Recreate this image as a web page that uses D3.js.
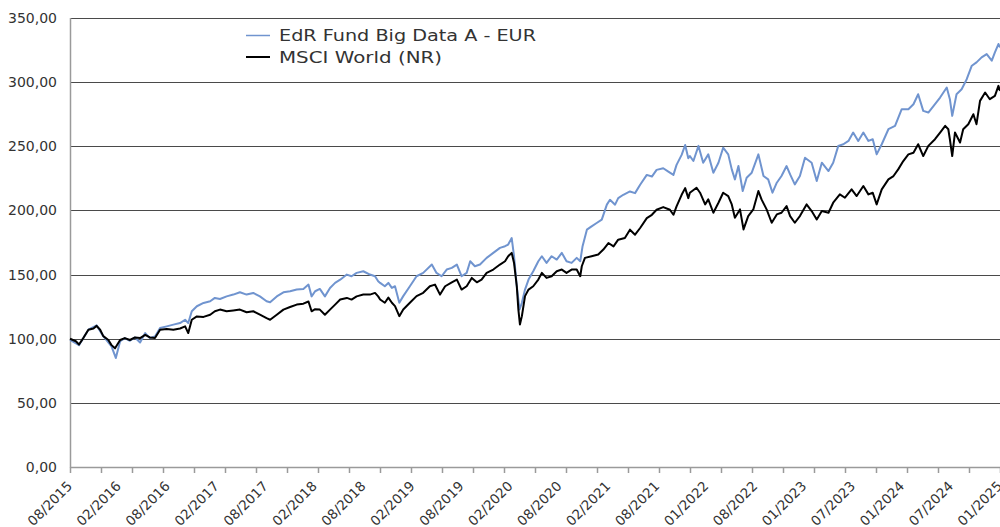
<!DOCTYPE html>
<html><head><meta charset="utf-8">
<script src="https://cdn.jsdelivr.net/npm/d3@7"></script>
<style>body{margin:0;background:#fff;}svg{display:block;}</style>
</head><body><svg id="c" width="1000" height="527"></svg>
<script>
const seriesNames = ["EdR Fund Big Data A - EUR", "MSCI World (NR)"];
const xLabels = ["08/2015","02/2016","08/2016","02/2017","08/2017","02/2018","08/2018","02/2019","08/2019","02/2020","08/2020","02/2021","08/2021","01/2022","08/2022","01/2023","07/2023","01/2024","07/2024","01/2025"];
const yTicks = [0,50,100,150,200,250,300,350];
const totalDays = 2375;
const labelEvery = 125;
const tickCount = 30;

const edrDays = [0,23,47,68,85,106,117,128,140,153,166,179,192,204,217,230,247,264,281,294,302,311,324,341,358,370,383,400,417,434,451,468,485,502,511,528,545,562,579,596,609,617,626,638,651,664,677,690,707,719,732,749,766,779,787,
792,804,813,822,830,841,851,868,885,902,924,936,949,962,975,988,1000,1013,1022,1034,1047,1064,1081,1098,1111,1119,1128,1134,1141,1148,1154,1162,1171,1183,1196,1205,1217,1230,1243,1256,1268,1281,1294,1303,1309,1320,1332,1345,1358,1371,1379,1392,1400,1413,1430,1443,1456,1473,1486,1498,1515,1528,1541,1549,1562,1571,1579,
1583,1592,1605,1617,1630,1643,1656,1668,1681,1690,1698,1707,1718,1728,1741,1758,1771,1783,1794,1805,1817,1830,1839,1851,1864,1877,1894,1907,1920,1937,1949,1962,1975,1988,2000,2013,2026,2039,2050,2060,2073,2090,2107,2124,2141,2154,2166,2179,2192,2209,2222,2239,2247,2253,2264,2277,2290,2303,2315,2328,2341,2354,2362,2371,2375];
const edrValues = [99,95,107,110.4,102,94,85,98,100.5,98.4,101,97.1,104.4,100.5,101.8,108.3,109.6,111,112.2,114.8,112.2,121.4,125.3,127.9,129.2,131.8,131,133,134.4,136.2,134.4,135.7,133,129.2,128.4,133,136.2,137,138.3,138.8,142.2,133,137,138.8,133,139.6,143.5,146,150,148.7,151.3,152.6,150,148.7,144.8,
143.5,140.9,143.5,139.6,140.9,128,133.2,140.9,148.7,151.3,157.8,151.3,148.7,153.9,155.2,157.8,148.7,151.3,160.4,156.5,157.8,163,166.9,170.8,172.1,173.4,178.5,164.3,140.9,122.8,128,138.3,146.1,152.6,160.4,164.3,159.1,164.3,161.7,166.9,160.4,159.1,163,160.4,172.1,185,187.6,190.2,192.8,204.5,208.3,204.5,209.6,212.2,214.8,213.5,220,227.7,226.4,231.6,232.9,230.3,227.7,235.5,243.3,251,240.7,
242.4,238.5,250.3,237.2,243.7,229.4,237.2,248.9,243.7,232,224.2,234.6,215.1,225.5,229.4,243.7,226.8,224.2,213.8,221.6,226.8,234.6,228.1,220.3,226.8,241.1,237.2,222.9,237.2,230.7,237.2,250.3,251.6,254.2,260.7,254.2,260.7,254.2,255.5,243.7,251.6,263.3,265.9,278.9,278.9,282.8,290.6,277.6,276.3,282.8,288,295.8,286.7,273.7,290.6,294.5,302.3,312.8,315.4,319.3,321.9,316.7,323.2,329.7,327.1];

const msciDays = [0,15,23,34,47,60,68,77,85,98,106,115,128,140,153,166,179,192,204,217,230,247,264,281,294,302,311,324,341,358,370,383,400,417,434,451,468,485,502,511,528,545,562,579,596,609,617,626,638,651,664,677,690,707,719,732,749,766,779,787,
792,804,813,822,830,841,851,868,885,902,919,932,945,958,975,988,1000,1013,1026,1039,1051,1064,1081,1098,1111,1119,1128,1134,1141,1145,1149,1154,1162,1171,1183,1196,1205,1217,1230,1243,1256,1268,1281,1294,1303,1307,1315,1332,1349,1362,1375,1388,1400,1417,1430,1443,1456,1473,1486,1498,1515,1532,1541,1549,1562,1571,1579,
1583,1600,1609,1622,1630,1643,1656,1668,1681,1690,1698,1711,1720,1732,1745,1758,1766,1779,1792,1805,1817,1830,1839,1851,1864,1881,1894,1907,1920,1937,1949,1966,1979,1996,2009,2026,2039,2050,2060,2073,2090,2103,2115,2128,2141,2154,2166,2179,2192,2209,2222,2235,2243,2247,2253,2260,2273,2281,2294,2307,2315,2324,2337,2349,2362,2371,2375];
const msciValues = [100,98,95.5,100.5,107,108,110,107,102,99,95,92.5,99,100.5,99,101,100.5,103,101,100.5,107,107.5,107,108,109.6,104.4,114.8,117.4,117,118.7,121.4,122.7,121.4,122,122.7,120.6,121.4,118.7,116,114.8,118.7,122.7,124.7,126.6,127.3,129,121.4,123,122.7,118.7,122.7,126.6,130.5,131.8,130.5,133,134.4,134.4,135.7,133,
130.6,128,132,128,125.4,117.6,122.8,128,133.2,135.8,140.9,142.2,134.4,140.9,144,146.1,138.3,140.9,147.4,144,146.1,151.3,153.9,157.8,160.4,164.3,166.9,159,140.9,122.8,111.1,117.6,133.2,138.3,140.9,146.1,151.3,147.4,148.7,152.6,153.9,151.3,153.9,153.9,148.7,156.5,163,164.3,165.6,169.5,174.6,172,177.2,178.5,185,181.1,186.3,194,196.6,200.5,202.6,200.5,196.6,203.1,212.2,217.4,209.6,
213.8,217.7,213.8,204.7,208.6,198.2,206,213.8,211.2,204.7,194.3,200.8,185.2,195.6,200.8,215.1,208.6,200.8,190.4,196.9,198.2,203.4,195.6,190.4,195.6,204.7,199.5,193,199.5,198.2,206,212.5,209.9,216.4,211.2,219,212.5,213.8,204.7,216.4,224.2,226.8,232,238.5,243.7,245,251.6,242.4,250.3,255.5,260.7,265.9,263.3,255.5,242.4,260.7,252.9,263.3,267.2,275,267.2,285.4,291.9,286.7,289.3,297.1,293.2];

const colors = ["#7094cf", "#000000"];

const svg = d3.select("#c");
const margin = {left:70, right:0, top:18, bottom:60};
const W = 1000, H = 527;
const x = d3.scaleLinear().domain([0,totalDays]).range([70,1000]);
const y = d3.scaleLinear().domain([0,350]).range([467,18]);

// gridlines
svg.append("g").selectAll("line").data(yTicks.filter(d=>d>0)).join("line")
  .attr("x1",70).attr("x2",1000)
  .attr("y1",d=>Math.round(y(d))+0.5).attr("y2",d=>Math.round(y(d))+0.5)
  .attr("stroke","#4a4a4a").attr("stroke-width",1);

// y axis line
svg.append("line").attr("x1",70.5).attr("x2",70.5).attr("y1",y(350)).attr("y2",467.5)
  .attr("stroke","#9a9a9a").attr("stroke-width",1.5);
// y labels
const fmt = d3.format(".2f");
svg.append("g").selectAll("text").data(yTicks).join("text")
  .attr("x",57).attr("y",d=>y(d)).attr("dy","0.36em")
  .attr("text-anchor","end").attr("font-family","DejaVu Sans").attr("font-size",14)
  .attr("fill","#333").text(d=>fmt(d).replace(".",","));

// x axis
svg.append("line").attr("x1",70).attr("x2",1000).attr("y1",467.5).attr("y2",467.5)
  .attr("stroke","#9a9a9a").attr("stroke-width",1.5);
const tickDays = d3.range(tickCount+1).map(k=>k*totalDays/tickCount);
svg.append("g").selectAll("line").data(tickDays).join("line")
  .attr("x1",d=>Math.round(x(d))+0.5).attr("x2",d=>Math.round(x(d))+0.5)
  .attr("y1",467).attr("y2",473).attr("stroke","#9a9a9a").attr("stroke-width",1.5);
svg.append("g").selectAll("text").data(xLabels).join("text")
  .attr("transform",(d,i)=>`translate(${x(i*labelEvery)+3},487) rotate(-45)`)
  .attr("text-anchor","end").attr("font-family","DejaVu Sans").attr("font-size",13.5)
  .attr("fill","#333").text(d=>d);

// lines
const line = d3.line().x(d=>x(d[0])).y(d=>y(d[1])).curve(d3.curveLinear);
const edr = edrDays.map((d,i)=>[d,edrValues[i]]);
const msci = msciDays.map((d,i)=>[d,msciValues[i]]);
svg.append("path").datum(edr).attr("d",line).attr("fill","none")
  .attr("stroke",colors[0]).attr("stroke-width",2).attr("stroke-linejoin","round");
svg.append("path").datum(msci).attr("d",line).attr("fill","none")
  .attr("stroke",colors[1]).attr("stroke-width",2).attr("stroke-linejoin","round");

// legend
const lg = svg.append("g");
const lw = [257, 163];
seriesNames.forEach((n,i)=>{
  const cy = 35.5 + i*21.5;
  lg.append("line").attr("x1",246).attr("x2",270).attr("y1",cy).attr("y2",cy)
    .attr("stroke",colors[i]).attr("stroke-width",i===0?1.5:2);
  lg.append("text").attr("x",279).attr("y",cy+5.5).attr("font-family","DejaVu Sans")
    .attr("font-size",15).attr("fill","#333").attr("textLength",lw[i]).attr("lengthAdjust","spacingAndGlyphs").text(n);
});
</script></body></html>
